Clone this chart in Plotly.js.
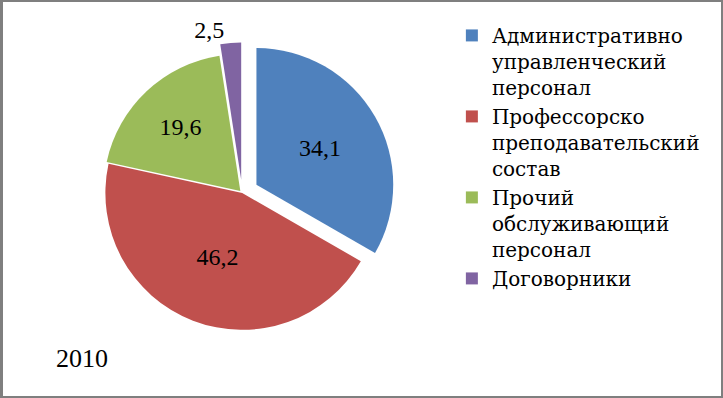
<!DOCTYPE html>
<html>
<head>
<meta charset="utf-8">
<script src="https://cdn.plot.ly/plotly-3.0.1.min.js"></script>
<style>
html,body{margin:0;padding:0;background:#fff;}
#wrap{position:relative;width:723px;height:398px;}
#chart{width:723px;height:398px;}
#frame{position:absolute;left:0;top:0;width:723px;height:398px;box-sizing:border-box;border:2px solid #7f7f7f;border-left-width:3px;pointer-events:none;}
</style>
</head>
<body>
<div id="wrap"><div id="chart"></div><div id="frame"></div></div>
<script>
const categories = [
  "Административно<br>управленческий<br>персонал",
  "Профессорско<br>преподавательский<br>состав",
  "Прочий<br>обслуживающий<br>персонал",
  "Договорники"
];
const values = [34.1, 46.2, 19.6, 2.5];
const valueLabels = ["34,1", "46,2", "19,6", "2,5"];
const sliceColors = ["#4F81BD", "#C0504D", "#9BBB59", "#8064A2"];
const yearLabel = "2010";

const numFont = "'Liberation Serif', serif";
const textFont = "'DejaVu Serif', serif";

const data = [{
  type: "pie",
  labels: categories,
  values: values,
  text: valueLabels,
  textinfo: "text",
  hoverinfo: "label+text",
  sort: false,
  direction: "clockwise",
  rotation: 0,
  pull: [0.12, 0, 0.02, 0.1],
  marker: {colors: sliceColors, line: {width: 0}},
  textposition: ["inside", "inside", "inside", "outside"],
  insidetextorientation: "horizontal",
  textfont: {family: numFont, size: 24, color: "#000"},
  domain: {x: [0.03, 0.64], y: [0.13, 0.9]}
}];

const layout = {
  width: 723, height: 398,
  margin: {l: 0, r: 0, t: 0, b: 0},
  paper_bgcolor: "#fff",
  font: {family: numFont, color: "#000"},
  showlegend: true,
  legend: {
    x: 0.625, y: 0.96, xanchor: "left", yanchor: "top",
    valign: "top",
    font: {family: textFont, size: 20, color: "#000"},
    itemwidth: 30, tracegroupgap: 0,
    bgcolor: "rgba(0,0,0,0)"
  },
  annotations: [{
    text: yearLabel, xref: "paper", yref: "paper",
    x: 0.075, y: 0.1, xanchor: "left", yanchor: "middle",
    showarrow: false, font: {family: numFont, size: 26, color: "#000"}
  }]
};

Plotly.newPlot("chart", data, layout, {displayModeBar: false, staticPlot: true});
</script>
</body>
</html>
